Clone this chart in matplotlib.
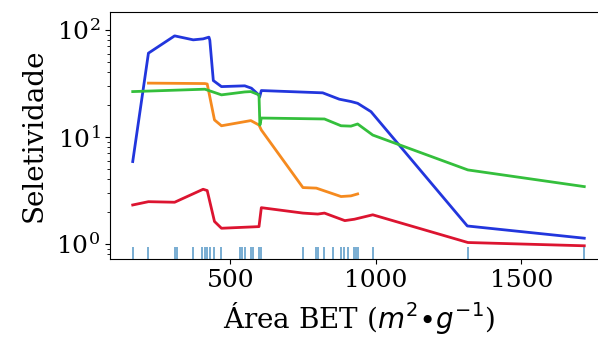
import matplotlib
matplotlib.use("Agg")
import matplotlib.pyplot as plt

# BET surface area (m2/g) and selectivity for each curve
bet_blue = [164, 218, 308, 372, 406, 426, 429, 441, 469, 549, 572, 597, 600, 606,
            817, 874, 914, 937, 983, 1314, 1716]
sel_blue = [5.88, 60.6, 87.9, 80.7, 82.4, 85.5, 80.0, 33.6, 29.5, 30.0, 28.5, 24.7, 23.5, 27.1,
            25.8, 22.5, 21.4, 20.6, 17.2, 1.47, 1.13]

bet_orange = [218, 412, 420, 445, 469, 570, 598, 606, 749, 795, 880, 914, 937]
sel_orange = [31.8, 31.5, 31.2, 14.4, 12.7, 14.2, 12.9, 11.6, 3.36, 3.32, 2.77, 2.81, 2.93]

bet_green = [164, 412, 469, 549, 570, 598, 601, 606, 823, 880, 914, 937, 989, 1316, 1716]
sel_green = [26.5, 27.9, 24.7, 26.3, 26.5, 24.7, 12.9, 15.0, 14.7, 12.7, 12.6, 13.2, 10.4, 4.91, 3.43]

bet_red = [164, 218, 308, 406, 420, 445, 469, 598, 606, 749, 800, 823, 880, 893, 926, 989, 1316, 1716]
sel_red = [2.31, 2.48, 2.45, 3.24, 3.15, 1.62, 1.40, 1.45, 2.18, 1.94, 1.90, 1.94, 1.70, 1.65, 1.70,
           1.87, 1.03, 0.96]

# observed BET areas shown as a rug along the bottom
bet_rug = [164, 218, 308, 315, 372, 401, 412, 420, 429, 445, 469, 531, 538, 549, 570, 578,
           598, 606, 749, 795, 800, 823, 852, 880, 890, 903, 926, 932, 937, 989, 1316, 1716]

plt.rcParams["font.family"] = "DejaVu Serif"
plt.rcParams["font.size"] = 18

fig = plt.figure(figsize=(5.98, 3.42), dpi=100)
ax = fig.add_axes([0.184, 0.243, 0.831, 0.722])

lw = 2.0
ax.plot(bet_blue, sel_blue, color="#2236dd", lw=lw)
ax.plot(bet_orange, sel_orange, color="#f58a1f", lw=lw)
ax.plot(bet_green, sel_green, color="#34bf3c", lw=lw)
ax.plot(bet_red, sel_red, color="#dc1430", lw=lw)

ax.vlines(bet_rug, 0, 0.05, transform=ax.get_xaxis_transform(),
          color="#1f77b4", alpha=0.6, lw=1.4)

ax.set_yscale("log")
ax.set_ylim(0.724, 147)
ax.set_xlim(86, 1794)
ax.set_xticks([500, 1000, 1500])
ax.spines["right"].set_visible(False)

ax.set_xlabel(r"Área BET ($m^2{\bullet}g^{-1}$)", fontsize=20, labelpad=6)
ax.set_ylabel("Seletividade", fontsize=20, labelpad=6)

fig.savefig("out.png", dpi=100)
